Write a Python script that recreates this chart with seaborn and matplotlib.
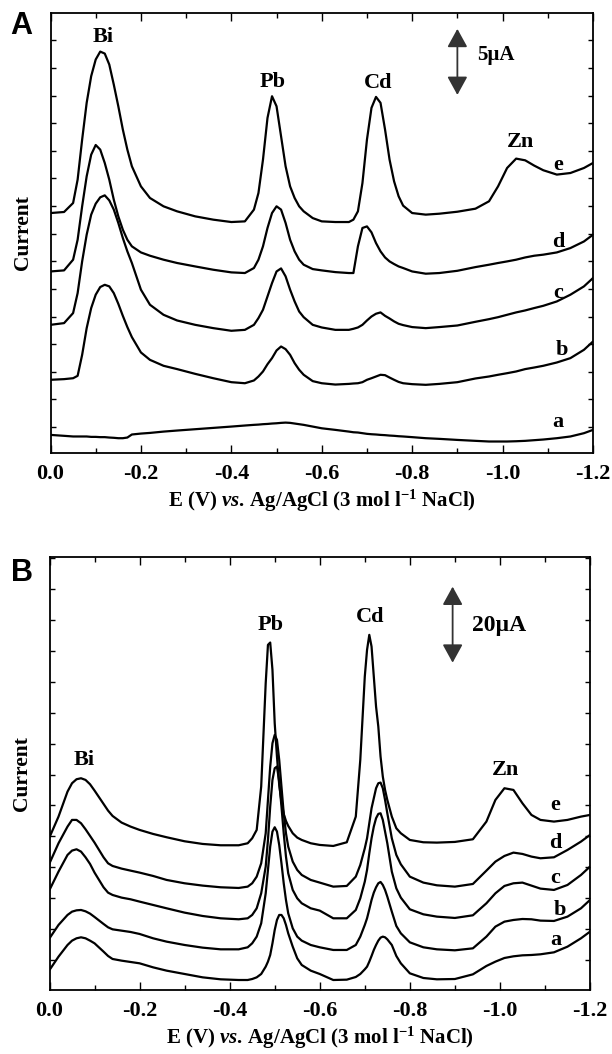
import matplotlib
matplotlib.use("Agg")
import matplotlib.pyplot as plt
import numpy as np
import pandas as pd
import seaborn as sns
from matplotlib.ticker import FixedLocator

# --- data (E in V, current in uA) ---
E_A = -np.array([0.00, 0.03, 0.05, 0.06, 0.07, 0.08, 0.09, 0.10, 0.11, 0.12, 0.13, 0.14, 0.15, 0.16, 0.17,
                 0.18, 0.20, 0.22, 0.25, 0.28, 0.32, 0.36, 0.40, 0.43, 0.45, 0.46, 0.47, 0.48, 0.49, 0.50,
                 0.51, 0.52, 0.53, 0.54, 0.55, 0.56, 0.58, 0.60, 0.63, 0.66, 0.67, 0.68, 0.69, 0.70, 0.71,
                 0.72, 0.73, 0.74, 0.75, 0.76, 0.77, 0.78, 0.80, 0.83, 0.86, 0.90, 0.94, 0.97, 0.99, 1.01,
                 1.03, 1.05, 1.07, 1.09, 1.12, 1.15, 1.18, 1.20])

I_A_e = [18.16, 18.24, 18.92, 20.69, 23.72, 26.5, 28.52, 29.78, 30.38, 30.23, 29.4, 27.88, 26.24, 24.48, 22.96,
         21.7, 20.18, 19.3, 18.67, 18.29, 17.91, 17.66, 17.48, 17.53, 18.42, 19.68, 22.2, 25.36, 27.0, 26.24,
         23.97, 21.7, 20.18, 19.3, 18.67, 18.29, 17.78, 17.53, 17.48, 17.48, 17.66, 18.29, 20.43, 23.72, 26.12,
         26.95, 26.5, 24.48, 22.2, 20.56, 19.43, 18.72, 18.16, 18.04, 18.11, 18.26, 18.49, 19.05, 20.18, 21.57,
         22.28, 22.15, 21.75, 21.4, 21.07, 21.19, 21.57, 21.95]
I_A_d = [13.74, 13.82, 14.63, 16.14, 18.67, 20.94, 22.58, 23.31, 22.96, 21.95, 20.69, 19.17, 17.91, 16.9, 16.14,
         15.64, 15.18, 14.93, 14.63, 14.38, 14.12, 13.87, 13.67, 13.62, 14.0, 14.63, 15.64, 17.03, 18.16, 18.67,
         18.42, 17.41, 16.14, 15.26, 14.63, 14.25, 13.92, 13.82, 13.69, 13.62, 13.62, 15.64, 17.03, 17.15, 16.7,
         15.89, 15.26, 14.8, 14.5, 14.3, 14.12, 14.0, 13.74, 13.57, 13.62, 13.79, 14.07, 14.25, 14.38, 14.5,
         14.63, 14.8, 14.93, 15.01, 15.18, 15.51, 16.01, 16.52]
I_A_c = [9.70, 9.83, 10.59, 12.1, 14.5, 16.52, 18.04, 18.87, 19.35, 19.5, 19.12, 18.42, 17.41, 16.27, 15.26,
         14.38, 12.36, 11.22, 10.46, 10.03, 9.7, 9.45, 9.25, 9.32, 9.7, 10.21, 10.84, 11.85, 12.86, 13.74,
         13.97, 13.37, 12.36, 11.47, 10.71, 10.28, 9.7, 9.5, 9.32, 9.32, 9.4, 9.5, 9.7, 10.03, 10.33,
         10.54, 10.64, 10.38, 10.18, 9.96, 9.78, 9.68, 9.53, 9.45, 9.53, 9.65, 9.93, 10.13, 10.28, 10.46,
         10.64, 10.79, 10.97, 11.14, 11.47, 11.98, 12.61, 13.24]
I_A_b = [5.54, 5.59, 5.66, 5.84, 7.43, 9.45, 10.97, 11.98, 12.56, 12.73, 12.61, 12.1, 11.29, 10.38, 9.53,
         8.77, 7.61, 7.05, 6.6, 6.35, 5.99, 5.66, 5.36, 5.28, 5.49, 5.79, 6.17, 6.72, 7.18, 7.76,
         8.06, 7.86, 7.43, 6.8, 6.3, 5.92, 5.44, 5.28, 5.18, 5.23, 5.26, 5.28, 5.36, 5.54, 5.66,
         5.79, 5.92, 5.89, 5.71, 5.54, 5.38, 5.28, 5.21, 5.16, 5.23, 5.36, 5.64, 5.79, 5.92, 6.04,
         6.17, 6.35, 6.47, 6.6, 6.85, 7.18, 7.81, 8.44]
I_A_a = [1.37, 1.3, 1.25, 1.25, 1.25, 1.25, 1.22, 1.22, 1.2, 1.2, 1.17, 1.15, 1.12, 1.12, 1.17,
         1.4, 1.47, 1.52, 1.62, 1.7, 1.8, 1.9, 2.0, 2.08, 2.13, 2.15, 2.18, 2.2, 2.23, 2.25,
         2.28, 2.3, 2.28, 2.23, 2.18, 2.13, 2.0, 1.87, 1.75, 1.62, 1.57, 1.55, 1.5, 1.45, 1.42,
         1.4, 1.37, 1.35, 1.32, 1.3, 1.27, 1.25, 1.2, 1.12, 1.07, 0.99, 0.92, 0.87, 0.87, 0.87,
         0.89, 0.92, 0.97, 1.02, 1.12, 1.25, 1.5, 1.75]

E_B = -np.array([0.00, 0.02, 0.04, 0.05, 0.06, 0.07, 0.08, 0.09, 0.10, 0.12, 0.13, 0.14, 0.16, 0.18, 0.20,
                 0.23, 0.26, 0.30, 0.34, 0.38, 0.42, 0.44, 0.45, 0.46, 0.47, 0.48, 0.485, 0.49, 0.495, 0.50,
                 0.505, 0.51, 0.515, 0.52, 0.525, 0.53, 0.54, 0.55, 0.56, 0.58, 0.60, 0.63, 0.66, 0.68, 0.69,
                 0.70, 0.705, 0.71, 0.715, 0.72, 0.725, 0.73, 0.735, 0.74, 0.745, 0.75, 0.76, 0.77, 0.78, 0.80,
                 0.83, 0.86, 0.90, 0.94, 0.97, 0.99, 1.01, 1.03, 1.05, 1.07, 1.09, 1.12, 1.15, 1.18, 1.20])

I_B_e = [40.18, 45.61, 52.19, 54.39, 55.44, 55.7, 55.26, 54.12, 52.46, 48.95, 47.19, 45.79, 44.04, 42.98, 42.11,
         41.05, 40.18, 39.12, 38.42, 38.07, 38.07, 38.6, 39.91, 42.11, 53.51, 80.7, 90.79, 91.4, 84.21, 70.18,
         61.4, 53.95, 49.56, 46.32, 44.47, 43.16, 41.23, 40.09, 39.47, 38.6, 38.16, 37.89, 38.86, 45.61, 60.53,
         82.46, 89.47, 93.42, 90.35, 82.46, 74.56, 69.3, 61.4, 56.14, 52.63, 50.0, 45.61, 42.54, 41.23, 39.47,
         38.86, 38.77, 38.95, 39.65, 44.3, 50.0, 53.07, 52.63, 49.12, 46.05, 44.74, 44.3, 44.74, 45.61, 46.05]
I_B_d = [33.33, 38.6, 42.98, 44.74, 44.74, 43.86, 42.28, 40.53, 38.77, 34.91, 33.33, 32.63, 31.93, 31.4, 30.88,
         30.0, 28.95, 28.07, 27.46, 27.02, 26.84, 27.19, 28.07, 29.82, 33.33, 41.23, 50.0, 58.77, 64.91, 67.11,
         65.79, 60.53, 53.51, 46.49, 41.23, 37.72, 33.77, 31.58, 30.26, 28.95, 28.25, 27.19, 27.37, 29.82, 32.89,
         37.28, 39.91, 43.86, 47.81, 50.44, 53.07, 54.39, 54.56, 53.07, 50.0, 46.49, 39.91, 35.53, 33.07, 29.82,
         28.25, 27.54, 27.19, 27.89, 31.4, 33.77, 35.26, 36.14, 35.79, 35.09, 34.65, 34.91, 36.84, 39.04, 40.79]
I_B_c = [26.32, 31.14, 35.53, 36.67, 37.02, 36.4, 34.91, 33.16, 30.88, 27.02, 25.61, 25.0, 24.3, 23.86, 23.25,
         22.37, 21.49, 20.35, 19.47, 18.86, 18.6, 18.86, 19.74, 21.49, 25.44, 32.46, 39.47, 48.25, 55.26, 58.33,
         58.77, 54.82, 48.25, 41.23, 35.09, 30.7, 26.32, 24.12, 22.81, 21.49, 20.88, 18.86, 18.86, 21.05, 24.12,
         28.51, 31.58, 35.96, 39.91, 42.98, 45.18, 46.32, 46.49, 44.74, 41.67, 38.6, 31.14, 26.75, 24.3, 21.23,
         19.91, 19.3, 18.95, 19.65, 22.81, 25.44, 27.37, 28.07, 28.25, 27.46, 26.67, 26.32, 27.63, 30.26, 32.46]
I_B_b = [13.6, 17.11, 19.74, 20.61, 20.96, 21.05, 20.7, 20.09, 19.21, 17.37, 16.49, 15.96, 15.61, 15.26, 14.74,
         13.6, 12.72, 11.84, 11.14, 10.7, 10.7, 11.23, 12.28, 14.04, 17.54, 25.44, 31.58, 37.72, 41.67, 42.81,
         41.67, 38.16, 33.33, 28.07, 23.68, 20.18, 16.23, 14.04, 12.98, 11.84, 11.23, 10.53, 10.53, 11.84, 14.04,
         17.11, 18.86, 21.23, 23.68, 25.61, 27.02, 28.07, 28.42, 27.63, 26.32, 24.56, 20.61, 16.84, 14.91, 12.54,
         11.23, 10.7, 10.44, 10.96, 14.04, 16.67, 17.98, 18.42, 18.68, 18.6, 18.25, 18.16, 19.3, 21.49, 23.68]
I_B_a = [5.26, 8.77, 11.84, 12.98, 13.6, 13.86, 13.6, 12.98, 12.28, 10.09, 8.95, 8.16, 7.72, 7.37, 7.02,
         5.96, 5.09, 4.21, 3.33, 2.81, 2.63, 2.63, 2.89, 3.33, 4.21, 6.14, 7.46, 9.21, 12.28, 15.79,
         18.42, 19.74, 19.74, 18.86, 17.11, 14.91, 11.4, 8.33, 6.58, 5.09, 4.21, 2.63, 2.72, 3.42, 4.21,
         5.44, 6.14, 7.46, 8.95, 10.53, 11.84, 12.98, 13.77, 14.04, 13.86, 13.33, 11.84, 8.95, 7.02, 4.39,
         3.16, 2.81, 2.89, 4.12, 6.32, 7.46, 8.42, 8.86, 9.12, 9.21, 9.39, 9.91, 11.4, 13.6, 15.35]

TRACES = ["a", "b", "c", "d", "e"]
E_TICKS = [0.0, -0.2, -0.4, -0.6, -0.8, -1.0, -1.2]
E_TICK_LABELS = ["0.0", "-0.2", "-0.4", "-0.6", "-0.8", "-1.0", "-1.2"]
PEAKS = ["Bi", "Pb", "Cd", "Zn"]

# label anchor positions (E, current)
PEAK_POS_A = [(-0.116, 31.5), (-0.492, 28.1), (-0.725, 28.0), (-1.039, 23.5)]
TRACE_POS_A = [(-1.123, 2.35), (-1.132, 7.8), (-1.123, 12.1), (-1.123, 16.0), (-1.123, 21.8)]
PEAK_POS_B = [(-0.076, 60.5), (-0.492, 96.0), (-0.711, 98.2), (-1.012, 57.9)]
TRACE_POS_B = [(-1.123, 13.2), (-1.134, 21.0), (-1.123, 29.5), (-1.123, 38.7), (-1.123, 48.7)]


def long_frame(E, curves):
    return pd.DataFrame({
        "E": np.tile(E, len(curves)),
        "I": np.concatenate([np.asarray(c, float) for c in curves]),
        "trace": np.repeat(TRACES, len(E)),
    })


df_A = long_frame(E_A, [I_A_a, I_A_b, I_A_c, I_A_d, I_A_e])
df_B = long_frame(E_B, [I_B_a, I_B_b, I_B_c, I_B_d, I_B_e])

sns.set_theme(style="ticks")
plt.rcParams["font.family"] = ["Liberation Serif", "DejaVu Serif"]
plt.rcParams["font.weight"] = "bold"
plt.rcParams["axes.unicode_minus"] = False
plt.rcParams["mathtext.fontset"] = "custom"
plt.rcParams["mathtext.rm"] = "Liberation Serif:bold"
plt.rcParams["mathtext.it"] = "Liberation Serif:italic:bold"
plt.rcParams["mathtext.bf"] = "Liberation Serif:bold"
for key in ["text.color", "axes.labelcolor", "xtick.color", "ytick.color", "axes.edgecolor"]:
    plt.rcParams[key] = "black"

fig = plt.figure(figsize=(6.12, 10.54), dpi=100)
W, H = 612, 1054
axA = fig.add_axes([50.5 / W, 1 - 453 / H, 542.5 / W, 440 / H])
axB = fig.add_axes([49.5 / W, 1 - 990 / H, 540.5 / W, 433 / H])

XLABEL = r"E (V) $\mathit{vs.}\,$Ag/AgCl (3 mol l$^{\mathrm{-1}}$ NaCl)"


def style_panel(ax, ylim, yticks):
    ax.set_xlim(0, -1.2)
    ax.set_ylim(*ylim)
    ax.set_xticks(E_TICKS, E_TICK_LABELS)
    ax.xaxis.set_minor_locator(FixedLocator(np.round(np.arange(-0.1, -1.2, -0.2), 2)))
    ax.yaxis.set_major_locator(FixedLocator(yticks))
    ax.set_yticklabels([])
    ax.tick_params(axis="x", which="major", direction="in", length=6, width=1.0,
                   top=True, bottom=True, labelsize=16, pad=8, colors="black")
    ax.tick_params(axis="x", which="minor", direction="in", length=3.5, width=1.0, top=True, bottom=True)
    ax.tick_params(axis="y", which="major", direction="in", length=3.5, width=1.0, left=True, right=True)
    for lab in ax.get_xticklabels():
        lab.set_fontweight("bold")
    for s in ax.spines.values():
        s.set_linewidth(1.3)
        s.set_color("black")
    ax.set_xlabel(XLABEL, fontsize=15, fontweight="bold", labelpad=3, color="black")
    ax.set_ylabel("Current", fontsize=15.5, fontweight="bold", labelpad=9, color="black")


for ax, df in [(axA, df_A), (axB, df_B)]:
    sns.lineplot(data=df, x="E", y="I", units="trace", estimator=None, sort=False,
                 color="black", linewidth=1.6, legend=False, ax=ax)

style_panel(axA, (0, 33.3), np.arange(1.97, 33.3, 2.09))
style_panel(axB, (0, 113.9), np.arange(7.9, 113.9, 8.13))

txt = dict(fontfamily="Liberation Serif", fontweight="bold", ha="center", va="center", color="black")
for name, (x, y) in zip(PEAKS, PEAK_POS_A):
    axA.text(x, y, name, fontsize=16, **txt)
for name, (x, y) in zip(TRACES, TRACE_POS_A):
    axA.text(x, y, name, fontsize=16, **txt)
for name, (x, y) in zip(PEAKS, PEAK_POS_B):
    axB.text(x, y, name, fontsize=16, **txt)
for name, (x, y) in zip(TRACES, TRACE_POS_B):
    axB.text(x, y, name, fontsize=16, **txt)

# scale bars
arrow = dict(arrowstyle="<|-|>,head_length=0.4,head_width=0.22", color="#333333", lw=1.3,
             mutation_scale=28, shrinkA=0, shrinkB=0)
axA.annotate("", xy=(-0.9, 27.1), xytext=(-0.9, 32.1), arrowprops=arrow)
axA.text(-0.944, 30.15, "5µA", fontsize=15, fontfamily="Liberation Serif", fontweight="bold",
         ha="left", va="center", color="black")
axB.annotate("", xy=(-0.895, 86.1), xytext=(-0.895, 106.1), arrowprops=arrow)
axB.text(-0.939, 96.0, "20µA", fontsize=17, fontfamily="Liberation Serif", fontweight="bold",
         ha="left", va="center", color="black")

fig.text(21 / W, 1 - 26 / H, "A", fontsize=22, fontfamily="Liberation Sans", fontweight="bold",
         ha="center", va="center", color="black")
fig.text(22 / W, 1 - 573 / H, "B", fontsize=22, fontfamily="Liberation Sans", fontweight="bold",
         ha="center", va="center", color="black")

fig.savefig("out.png", dpi=100)
